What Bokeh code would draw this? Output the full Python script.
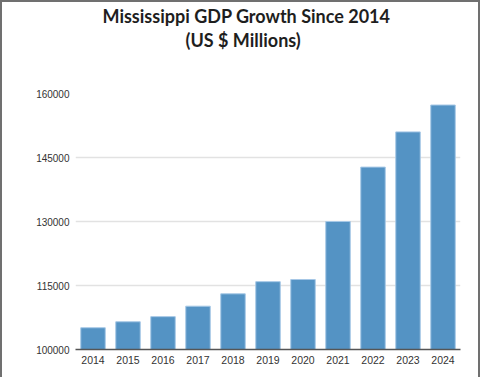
from bokeh.plotting import figure
from bokeh.models import FixedTicker, Title, GlobalInlineStyleSheet
from bokeh.embed import file_html
from bokeh.resources import INLINE

years = ["2014", "2015", "2016", "2017", "2018", "2019", "2020", "2021", "2022", "2023", "2024"]
gdp = [105100, 106500, 107700, 110150, 113050, 115900, 116400, 130000, 142750, 151000, 157300]
y_ticks = [100000, 115000, 130000, 145000, 160000]
title_line1 = "Mississippi GDP Growth Since 2014"
title_line2 = "(US $ Millions)"

p = figure(x_range=years, y_range=(100000, 160000), width=480, height=377,
           output_backend="svg", toolbar_location=None, title=None,
           min_border_left=73, min_border_right=22, min_border_top=0, min_border_bottom=30,
           styles={"border-left": "2px solid #707070", "border-top": "2px solid #707070",
                   "border-right": "2px solid #707070"})
p.stylesheets = [GlobalInlineStyleSheet(css="body{margin:0 !important;}")]

p.vbar(x=years, top=gdp, bottom=100000, width=0.7, fill_color="#5493c4",
       line_color="#a6c8e6", line_width=1)

spacer = Title(text=" ", text_font="Lato", text_font_size="18px", standoff=19)
t2 = Title(text=title_line2, align="left", offset=110, text_font="Lato", text_font_size="18px",
           text_font_style="bold", text_color="#1e1e1e", standoff=0)
t1 = Title(text=title_line1, align="left", offset=27, text_font="Lato", text_font_size="18px",
           text_font_style="bold", text_color="#1e1e1e", standoff=0)
p.add_layout(spacer, "above")
p.add_layout(t2, "above")
p.add_layout(t1, "above")

p.outline_line_color = None
p.xgrid.grid_line_color = None
p.ygrid.grid_line_color = "#e2e2e2"
p.ygrid.grid_line_width = 1.5
p.yaxis.ticker = FixedTicker(ticks=y_ticks)
p.yaxis.axis_line_color = None
p.yaxis.major_tick_line_color = None
p.yaxis.major_tick_out = 0
p.yaxis.minor_tick_line_color = None
p.yaxis.major_label_standoff = 6
p.yaxis.formatter.use_scientific = False
p.yaxis.major_label_text_font_size = "10px"
p.xaxis.axis_line_color = "#555555"
p.xaxis.axis_line_width = 1.5
p.xaxis.major_tick_line_color = None
p.xaxis.major_tick_out = 0
p.xaxis.major_label_standoff = 6
p.xaxis.major_label_text_font_size = "10.5px"
for ax in (p.xaxis, p.yaxis):
    ax.major_label_text_font = "Liberation Sans"
    ax.major_label_text_color = "#333333"
p.x_range.range_padding = 0.0

open("out.html", "w").write(file_html(p, INLINE))
